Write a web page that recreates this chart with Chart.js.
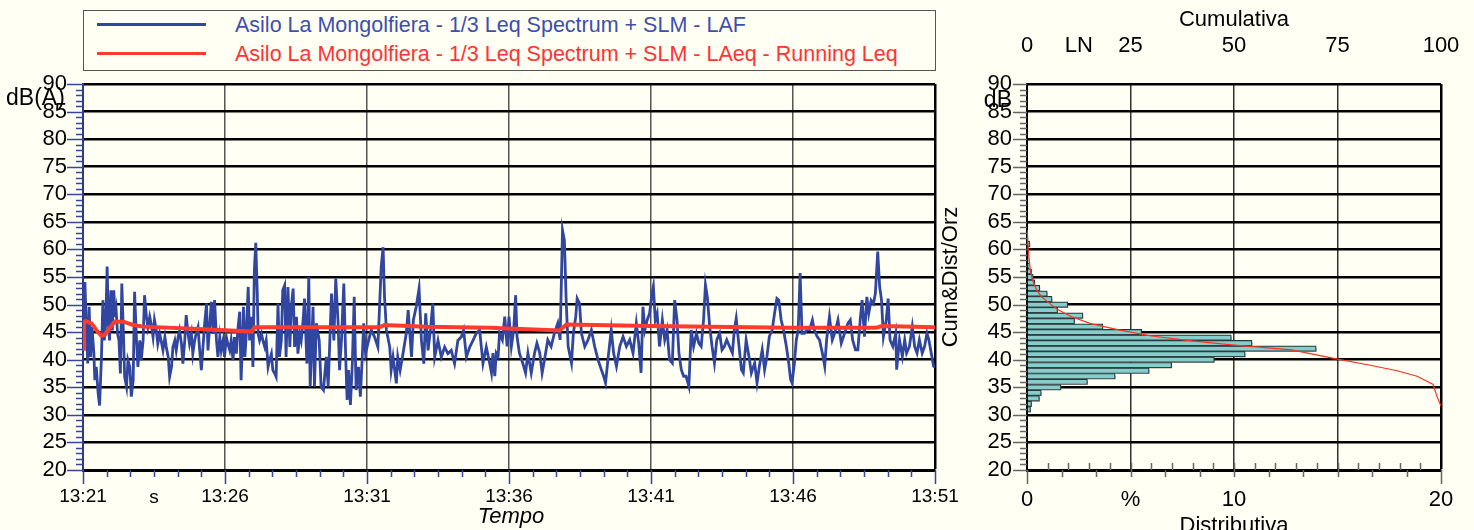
<!DOCTYPE html>
<html>
<head>
<meta charset="utf-8">
<script src="https://cdn.jsdelivr.net/npm/chart.js@4.4.1/dist/chart.umd.min.js"></script>
<style>
  body { margin: 0; background: #fffff3; width: 1474px; height: 530px; overflow: hidden; position: relative;
         font-family: "Liberation Sans", Arial, Helvetica, sans-serif; }
  #legend { position: absolute; left: 83px; top: 10px; width: 851px; height: 59px; border: 1px solid #555; }
  .swatch { position: absolute; left: 13px; width: 109px; height: 3px; }
  .label { position: absolute; left: 151px; font-size: 21.5px; line-height: 24px; white-space: nowrap; }
  #left { position: absolute; left: 0; top: 0; }
  #right { position: absolute; left: 940px; top: 0; }
</style>
</head>
<body>
<div id="legend">
  <div class="swatch" style="top:12px;background:#3146a0"></div>
  <div class="label" style="top:2px;color:#3d4fae">Asilo La Mongolfiera - 1/3 Leq Spectrum + SLM - LAF</div>
  <div class="swatch" style="top:41px;background:#ff3b30"></div>
  <div class="label" style="top:31px;color:#ff3333">Asilo La Mongolfiera - 1/3 Leq Spectrum + SLM - LAeq - Running Leq</div>
</div>
<canvas id="left" width="980" height="530"></canvas>
<canvas id="right" width="534" height="530"></canvas>
<script>
// time axis labels, seconds from 13:21:00 every 300 s
const timeLabels = ['13:21', '13:26', '13:31', '13:36', '13:41', '13:46', '13:51'];

// LAF trace (s, dB)
const lafTimes = [
  0, 4, 7, 10, 13, 16, 19, 23, 25, 28, 32, 35, 39, 42, 45, 48, 51, 54, 56, 59,
  62, 65, 68, 70, 73, 76, 79, 82, 85, 88, 92, 95, 99, 102, 106, 109, 113, 116, 120, 123,
  127, 130, 134, 137, 141, 144, 148, 151, 155, 158, 162, 165, 169, 173, 176, 180, 183, 187, 190, 194,
  197, 201, 204, 208, 211, 215, 218, 222, 225, 229, 232, 236, 239, 243, 246, 250, 253, 257, 261, 264,
  268, 271, 275, 278, 282, 285, 289, 292, 296, 299, 303, 306, 310, 313, 317, 320, 324, 327, 331, 334,
  337, 339, 342, 345, 349, 352, 356, 359, 362, 365, 368, 370, 373, 377, 380, 384, 387, 391, 394, 398,
  401, 405, 408, 412, 415, 419, 422, 426, 429, 433, 437, 440, 444, 447, 451, 454, 458, 461, 465,
  468, 473, 477, 480, 486, 489, 493, 499, 503, 508, 514, 518,
  525, 530, 534, 539, 542, 546, 551, 555, 558, 561, 565, 569, 573, 577, 582, 586, 590, 593, 597, 602,
  609, 616, 623, 630, 634, 637, 641, 648, 651, 655, 662, 665, 670, 676, 683, 687, 694, 698, 704, 710,
  715, 720, 724, 729, 734, 739, 743, 750, 757, 764, 771, 778, 785, 792, 799, 804, 810, 817, 824, 831,
  838, 845, 852,
  859, 863, 866, 870, 873, 877, 880, 886, 891, 896, 900, 905, 910, 914, 917, 922, 929, 935, 940, 947,
  954, 959, 965, 970, 975, 982, 989, 996, 1003, 1008, 1013, 1017, 1021, 1025, 1032, 1036, 1041, 1044, 1049, 1053,
  1060, 1067, 1074, 1081, 1088, 1095, 1100, 1104, 1109, 1116, 1121, 1127, 1134, 1141, 1148, 1155, 1162, 1169, 1174, 1179,
  1183, 1187, 1192, 1197, 1202, 1205, 1209, 1213, 1218, 1224, 1229, 1234, 1239, 1245, 1250, 1255, 1259, 1264, 1269, 1274,
  1280, 1285, 1290, 1296, 1301, 1306, 1311, 1315, 1319, 1324, 1329, 1334, 1339, 1345, 1350, 1355, 1360, 1366, 1372, 1376,
  1380, 1386, 1391, 1395, 1401, 1407, 1412, 1419, 1424, 1429, 1435, 1440, 1445, 1450, 1456, 1461, 1466, 1470, 1475, 1480,
  1486, 1491, 1495, 1498, 1503, 1507, 1511, 1515, 1519, 1524, 1529, 1535, 1541, 1545, 1551, 1556, 1562, 1567, 1571, 1577,
  1583, 1588, 1595, 1602, 1609, 1616, 1621, 1626, 1632, 1637, 1642, 1646, 1651, 1656, 1660, 1665, 1670, 1674, 1679, 1683,
  1687, 1691, 1697, 1701, 1705, 1711, 1717, 1719, 1725, 1731, 1736, 1740, 1746, 1752, 1757, 1762, 1767, 1773, 1778, 1783,
  1787, 1792, 1797, 1800
];
const lafLevels = [
  42.3, 54.1, 46.5, 39.3, 49.6, 40.5, 45.9, 41.1, 36.3, 38.7, 33.9, 31.7, 40.5, 50.8, 43.5, 46.5, 56.9, 45.9, 43.5, 52.6,
  45.3, 52.6, 47.8, 49.0, 44.7, 43.5, 37.5, 53.8, 45.9, 36.9, 35.1, 39.9, 38.7, 33.3, 36.3, 52.3, 43.5, 38.7, 43.5, 39.9,
  43.5, 51.7, 47.8, 45.9, 47.8, 46.5, 44.1, 47.2, 45.3, 42.9, 44.7, 43.5, 41.7, 44.1, 42.3, 40.5, 36.9, 38.7, 42.3, 43.5,
  41.7, 44.1, 45.3, 42.9, 39.3, 43.5, 48.1, 44.7, 42.9, 44.7, 41.1, 43.5, 44.7, 45.9, 42.3, 38.1, 41.7, 46.5, 50.2, 41.7,
  46.5, 50.5, 44.7, 50.8, 43.5, 40.5, 44.1, 41.7, 43.5, 40.5, 44.1, 42.9, 41.7, 43.5, 39.9, 44.1, 41.1, 45.3, 48.7, 36.3,
  43.5, 49.6, 40.5, 44.7, 53.2, 43.5, 47.8, 38.7, 56.2, 61.2, 52.6, 44.7, 43.5, 44.7, 43.5, 42.3, 43.5, 38.7, 39.9, 41.1,
  38.1, 37.5, 36.9, 50.2, 40.5, 43.5, 52.6, 53.5, 40.5, 53.2, 42.3, 49.6, 52.9, 42.3, 47.8, 41.1, 44.7, 43.5, 47.2,
  51.1, 39.3, 55.0, 35.1, 49.6, 35.1, 46.6, 43.5, 35.1, 34.5, 40.5, 35.1,
  52.0, 43.5, 54.7, 46.6, 38.1, 43.5, 53.8, 40.5, 32.7, 38.1, 31.8, 39.3, 51.4, 34.5, 38.7, 33.3, 40.5, 46.6, 41.1, 43.0,
  45.4, 44.1, 42.3, 56.8, 60.4, 51.4, 45.4, 42.3, 38.1, 40.5, 35.7, 40.5, 38.1, 41.1, 44.8, 49.0, 40.5, 47.2, 49.6, 52.9,
  43.5, 39.3, 48.4, 41.7, 45.4, 50.2, 40.5, 43.5, 40.5, 42.3, 41.1, 41.7, 39.3, 43.5, 44.1, 45.4, 40.5, 42.3, 43.5, 44.8,
  45.4, 39.3, 42.3,
  39.4, 37.6, 41.2, 37.0, 41.2, 40.6, 44.8, 43.6, 47.8, 42.4, 47.8, 42.4, 45.4, 51.7, 44.2, 41.2, 39.4, 37.6, 41.2, 37.6,
  41.2, 43.0, 41.2, 37.6, 40.0, 43.6, 42.4, 44.8, 46.6, 43.6, 63.5, 61.7, 50.2, 42.4, 39.4, 44.8, 47.8, 51.1, 50.2, 44.8,
  42.4, 43.6, 45.4, 42.4, 40.0, 38.2, 37.0, 35.8, 40.0, 45.4, 41.2, 38.8, 42.4, 44.2, 42.4, 43.6, 41.2, 46.6, 43.0, 37.6,
  49.6, 45.4, 47.2, 48.4, 52.0, 53.3, 47.2, 48.4, 42.4, 47.2, 43.6, 45.4, 40.0, 39.4, 50.8, 47.2, 41.2, 38.2, 37.0, 37.0,
  35.2, 45.4, 42.4, 44.8, 43.0, 42.4, 47.2, 53.6, 51.4, 46.0, 42.4, 39.4, 43.6, 44.8, 41.8, 42.4, 43.6, 42.4, 41.2, 45.4,
  47.5, 42.4, 38.2, 37.6, 43.6, 40.6, 37.6, 39.4, 35.8, 38.8, 41.8, 38.2, 40.6, 44.2, 45.4, 48.4, 51.1, 50.8, 47.2, 45.4,
  42.4, 39.4, 36.4, 35.8, 39.4, 43.6, 45.4, 55.7, 44.8, 44.8, 45.4, 45.4, 47.2, 45.4, 44.2, 43.6, 41.2, 38.8, 43.6, 47.8,
  43.6, 44.8, 47.2, 43.0, 44.8, 46.6, 47.2, 43.6, 41.8, 41.8, 47.2, 50.8, 44.2, 51.4, 48.4, 50.8, 50.2, 52.0, 59.6, 53.3,
  50.8, 44.2, 47.2, 51.1, 43.6, 42.4, 44.8, 38.2, 43.6, 40.6, 43.6, 41.2, 42.4, 46.0, 42.4, 41.2, 43.6, 41.2, 42.4, 44.8,
  43.6, 41.2, 38.8, 38.6
];

// running Leq (s, dB)
const leqTimes = [0, 2, 5, 18, 28, 39, 46, 56, 67, 85, 106, 127, 232, 356, 363, 444, 627, 637, 725, 859, 1007, 1021, 1197, 1493, 1676, 1688, 1800];
const leqLevels = [42.0, 46.8, 47.0, 46.6, 45.4, 44.3, 44.5, 45.7, 46.9, 46.9, 46.3, 46.0, 45.6, 45.1, 45.9, 45.9, 45.9, 46.3, 46.0, 45.8, 45.3, 46.4, 46.1, 45.8, 45.8, 46.1, 45.9];

// distribution (1 dB classes) and cumulative curve
const distLevels = [31, 32, 33, 34, 35, 36, 37, 38, 39, 40, 41, 42, 43, 44, 45, 46, 47, 48, 49, 50, 51, 52, 53, 54, 55, 56, 57, 58, 59, 60, 61, 62, 63];
const distPercent = [0.17, 0.22, 0.6, 0.69, 1.64, 2.92, 4.26, 5.9, 6.99, 9.05, 10.54, 13.97, 10.87, 9.87, 5.54, 3.67, 2.3, 2.7, 1.48, 1.97, 1.21, 0.98, 0.62, 0.38, 0.3, 0.22, 0.1, 0.06, 0.05, 0.05, 0.14, 0.05, 0.03];
const cumPercent = [0, 0.3, 0.8, 1.3, 2.3, 3.5, 6.0, 7.6, 10.8, 15.2, 22.1, 30.1, 39.8, 49.4, 63.9, 75.0, 82.9, 89.4, 94.2, 98.1, 99.0, 100];
const cumLevels = [63.5, 59.9, 56.3, 54.5, 52.7, 51.4, 49.9, 49.0, 47.8, 46.6, 45.4, 44.3, 43.4, 42.7, 41.8, 40.1, 39.0, 38.0, 37.0, 35.5, 33.4, 31.6];
const distLabels = ['0', '%', '10', '', '20'];
const cumLabels = ['0', 'LN', '25', '', '50', '', '75', '', '100'];

const FONT = '"Liberation Sans", Arial, Helvetica, sans-serif';
Chart.defaults.font.family = FONT;
Chart.defaults.color = '#000';

const pts = (xs, ys) => xs.map((x, i) => ({x, y: ys[i]}));

const leftDecor = {
    id: 'leftDecor',
    afterDraw(chart) {
        const {ctx, chartArea: a, scales: {x, y}} = chart;
        ctx.save();
        ctx.strokeStyle = '#34459c';
        ctx.lineWidth = 1.5;
        ctx.beginPath();
        for (let v = 20; v <= 90; v++) {
            const py = Math.round(y.getPixelForValue(v)) + 0.5;
            const len = v % 5 === 0 ? 16 : 7;
            ctx.moveTo(a.left - len, py); ctx.lineTo(a.left, py);
        }
        for (let t = 0; t <= 1800; t += 50) {
            const px = Math.round(x.getPixelForValue(t)) + 0.5;
            const len = t % 300 === 0 ? 14 : 7;
            ctx.moveTo(px, a.bottom); ctx.lineTo(px, a.bottom + len);
        }
        ctx.stroke();
        ctx.fillStyle = '#000';
        ctx.textBaseline = 'alphabetic';
        ctx.font = '23px ' + FONT;
        ctx.textAlign = 'left';
        ctx.fillText('dB(A)', 6, 105);
        ctx.font = '19px ' + FONT;
        ctx.textAlign = 'center';
        ctx.fillText('s', 154, 503);
        ctx.font = 'italic 22px ' + FONT;
        ctx.fillText('Tempo', 511, 523);
        ctx.restore();
    }
};

const rightDecor = {
    id: 'rightDecor',
    beforeDatasetDraw(chart, args) {
        if (args.index !== 1) return;
        const ctx = chart.ctx;
        ctx.save();
        ctx.shadowColor = 'rgba(70,70,70,0.5)';
        ctx.shadowOffsetX = 2;
        ctx.shadowOffsetY = 2;
    },
    afterDatasetDraw(chart, args) {
        if (args.index === 1) chart.ctx.restore();
    },
    afterDraw(chart) {
        const {ctx, chartArea: a, scales: {x, xTop, y}} = chart;
        ctx.save();
        ctx.strokeStyle = '#666';
        ctx.lineWidth = 1.5;
        ctx.beginPath();
        for (let v = 20; v <= 90; v++) {
            const py = Math.round(y.getPixelForValue(v)) + 0.5;
            const len = v % 5 === 0 ? 14 : 7;
            ctx.moveTo(a.left - len, py); ctx.lineTo(a.left, py);
        }
        for (let p = 1; p < 20; p++) {
            const px = Math.round(x.getPixelForValue(p)) + 0.5;
            ctx.moveTo(px, a.bottom); ctx.lineTo(px, a.bottom - 7);
        }
        for (let k = 0; k <= 12; k++) {
            const px = Math.round(x.getPixelForValue(k * 20 / 12)) + 0.5;
            const len = (k === 0 || k === 12) ? 14 : 7;
            ctx.moveTo(px, a.bottom); ctx.lineTo(px, a.bottom + len);
        }
        ctx.stroke();
        ctx.fillStyle = '#000';
        // cumulative scale labels along the top
        ctx.font = '22px ' + FONT;
        ctx.textAlign = 'center';
        ctx.textBaseline = 'middle';
        cumLabels.forEach((lab, i) => {
            if (lab) ctx.fillText(lab, xTop.getPixelForValue(i * 12.5), 46);
        });
        ctx.textBaseline = 'alphabetic';
        ctx.fillText('Cumulativa', 294, 26);
        ctx.fillText('Distributiva', 294, 532);
        ctx.textAlign = 'right';
        ctx.font = '23px ' + FONT;
        ctx.fillText('dB', 72, 107);
        ctx.translate(17, 277);
        ctx.rotate(-Math.PI / 2);
        ctx.textAlign = 'center';
        ctx.font = '22px ' + FONT;
        ctx.fillText('Cum&Dist/Orz', 0, 0);
        ctx.restore();
    }
};

new Chart(document.getElementById('left'), {
    type: 'line',
    data: {
        datasets: [
            {label: 'LAF', data: pts(lafTimes, lafLevels), borderColor: '#3146a0', borderWidth: 2.8,
             pointRadius: 0, tension: 0, order: 1},
            {label: 'LAeq', data: pts(leqTimes, leqLevels), borderColor: '#ff3b30', borderWidth: 4,
             pointRadius: 0, tension: 0, order: 0}
        ]
    },
    options: {
        responsive: false, animation: false, devicePixelRatio: 1,
        layout: {padding: {left: 0, right: 45, top: 84, bottom: 0}},
        plugins: {legend: {display: false}, tooltip: {enabled: false}},
        scales: {
            x: {
                type: 'linear', min: 0, max: 1800,
                afterFit(s) { s.height = 60; },
                ticks: {stepSize: 300, autoSkip: false, maxRotation: 0, padding: 15, font: {size: 19},
                        callback: v => timeLabels[Math.round(v / 300)] ?? ''},
                grid: {drawTicks: false,
                       color: c => c.tick.value === 0 ? 'rgba(0,0,0,0)' : (c.tick.value === 1800 ? '#000' : '#555'),
                       lineWidth: c => c.tick.value === 1800 ? 2.5 : 1.5},
                border: {color: '#000', width: 3}
            },
            y: {
                min: 20, max: 90,
                afterFit(s) { s.width = 83; },
                ticks: {stepSize: 5, autoSkip: false, padding: 16, font: {size: 22}},
                grid: {drawTicks: false, color: '#000', lineWidth: 2.5},
                border: {color: '#2b3a8c', width: 2}
            }
        }
    },
    plugins: [leftDecor]
});

new Chart(document.getElementById('right'), {
    type: 'bar',
    data: {
        datasets: [
            {type: 'line', label: 'Cumulativa', data: pts(cumPercent, cumLevels), xAxisID: 'xTop', yAxisID: 'y',
             borderColor: '#ff3020', borderWidth: 1.2, pointRadius: 0, tension: 0, order: 0},
            {type: 'bar', label: 'Distributiva', data: pts(distPercent, distLevels), xAxisID: 'x', yAxisID: 'y',
             backgroundColor: '#86cdcc', borderColor: '#1f3a3a', borderWidth: 1.2,
             barPercentage: 1, categoryPercentage: 1, order: 1}
        ]
    },
    options: {
        indexAxis: 'y',
        responsive: false, animation: false, devicePixelRatio: 1,
        layout: {padding: {left: 0, right: 33, top: 0, bottom: 0}},
        plugins: {legend: {display: false}, tooltip: {enabled: false}},
        scales: {
            x: {
                type: 'linear', position: 'bottom', min: 0, max: 20, offset: false,
                afterFit(s) { s.height = 60; },
                ticks: {stepSize: 5, autoSkip: false, maxRotation: 0, padding: 17, font: {size: 22},
                        callback: v => distLabels[Math.round(v / 5)] ?? ''},
                grid: {drawTicks: false, offset: false,
                       color: c => c.tick.value === 0 ? 'rgba(0,0,0,0)' : (c.tick.value === 20 ? '#000' : '#333'),
                       lineWidth: c => c.tick.value === 20 ? 2.5 : 1.5},
                border: {color: '#000', width: 3}
            },
            xTop: {
                type: 'linear', position: 'top', min: 0, max: 100, offset: false,
                afterFit(s) { s.height = 84; },
                ticks: {display: false, stepSize: 12.5},
                grid: {display: false},
                border: {display: false}
            },
            y: {
                type: 'linear', min: 20, max: 90, offset: false,
                afterFit(s) { s.width = 87; },
                ticks: {stepSize: 5, autoSkip: false, padding: 15, font: {size: 22}},
                grid: {drawTicks: false, offset: false, color: '#000', lineWidth: 2.5},
                border: {color: '#000', width: 2}
            }
        }
    },
    plugins: [rightDecor]
});
</script>
</body>
</html>
